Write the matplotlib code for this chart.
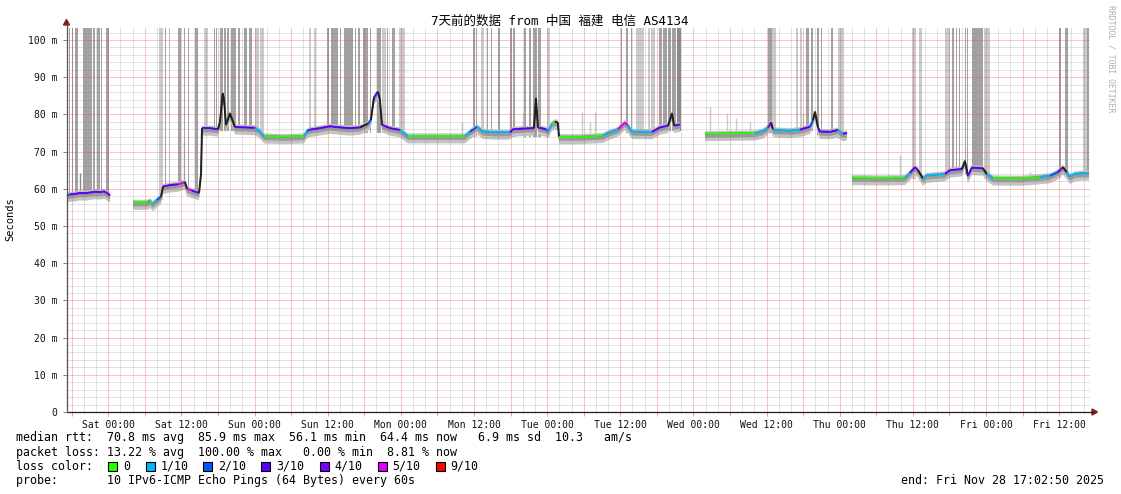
import numpy as np
import matplotlib
matplotlib.use('Agg')
import matplotlib.pyplot as plt
from matplotlib.collections import LineCollection
from matplotlib.patches import Polygon, Rectangle
from matplotlib.lines import Line2D

nan = np.nan
W, H = 1121, 494
MONO = ['DejaVu Sans Mono', 'Noto Sans CJK SC']
plt.rcParams['font.family'] = MONO

# ---------------- data ----------------
title = '7天前的数据 from 中国 福建 电信 AS4134'
# hours since start of window (Fri 17:02:50)
tick_hours = [6.953 + 12 * k for k in range(14)]
tick_labels = ['Sat 00:00', 'Sat 12:00', 'Sun 00:00', 'Sun 12:00', 'Mon 00:00', 'Mon 12:00',
               'Tue 00:00', 'Tue 12:00', 'Wed 00:00', 'Wed 12:00', 'Thu 00:00', 'Thu 12:00',
               'Fri 00:00', 'Fri 12:00']
ytick_vals = [0, 10, 20, 30, 40, 50, 60, 70, 80, 90, 100]
ytick_labels = ['0', '10 m', '20 m', '30 m', '40 m', '50 m', '60 m', '70 m', '80 m', '90 m', '100 m']

# median RTT (ms); loss index of the segment that starts at each point (7 = dark transition)
med_hours = [0.18, 0.67, 1.49, 2.31, 3.13, 3.95, 4.77, 5.59, 6.25, 6.74, 7.24, nan,
             11.01, 12.16, 13.47, 13.80, 14.29, 14.95, 15.61, 15.94, 17.09, 18.40, 19.54, 19.87,
             20.69, 21.84, 22.17, 22.33, 23.64, 24.95, 25.28, 25.73, 25.94, 26.27, 26.92, 27.74,
             29.38, 31.02, 31.84, 32.49, 35.94, 39.06, 39.55, 40.04, 41.68, 43.32, 44.96, 46.60,
             48.24, 49.55, 50.04, 50.53, 51.19, 51.52, 51.85, 53.16, 54.80, 55.46, 56.12, 61.37,
             65.47, 66.29, 67.44, 68.42, 70.39, 72.85, 73.34, 75.31, 76.79, 77.12, 77.45, 78.76,
             79.09, 79.74, 80.23, 80.72, 80.89, 84.33, 88.11, 88.93, 90.57, 91.72, 92.21, 92.87,
             96.15, 97.47, 98.79, 99.44, 99.77, 100.75, nan,
             104.85, 108.95, 113.05, 114.37, 115.19, 115.68, 116.01, 116.34, 118.80, 120.44,
             122.08, 122.57, 122.90, 123.39, 123.72, 125.36, 126.67, 127.49, 128.15, nan,
             128.97, 133.56, 137.66, 138.48, 139.30, 139.79, 140.61, 141.27, 144.22, 145.04,
             147.01, 147.50, 147.99, 148.64, 150.45, 151.10, 152.09, 156.52, 159.80, 161.44,
             162.75, 163.57, 164.23, 164.72, 165.54, 166.69, 167.84]
med_ms = [58.2, 58.5, 58.6, 58.9, 58.8, 59.0, 59.2, 59.1, 59.3, 58.9, 58.2, nan,
          56.4, 56.3, 56.4, 56.8, 56.0, 57.0, 57.9, 60.6, 61.0, 61.2, 61.8, 60.0,
          59.5, 58.9, 64.0, 76.3, 76.3, 76.0, 78.0, 85.7, 84.0, 77.2, 80.3, 76.6,
          76.5, 76.4, 75.5, 74.2, 74.0, 74.2, 75.5, 75.9, 76.3, 76.8, 76.5, 76.3,
          76.5, 77.5, 78.5, 84.5, 86.1, 84.0, 77.2, 76.3, 75.8, 75.0, 74.2, 74.2,
          74.2, 75.3, 76.7, 75.4, 75.2, 75.2, 76.0, 76.2, 76.3, 84.4, 76.5, 76.0,
          75.5, 77.5, 78.0, 77.8, 74.0, 74.0, 74.3, 75.0, 76.0, 77.8, 77.0, 75.4,
          75.3, 76.5, 77.0, 80.3, 77.0, 77.3, nan,
          74.8, 74.9, 75.0, 75.5, 76.5, 77.8, 76.0, 75.8, 75.6, 75.9,
          76.7, 78.5, 80.7, 76.5, 75.4, 75.3, 75.8, 74.8, 75.0, nan,
          63.0, 62.9, 63.0, 64.3, 65.8, 65.0, 62.8, 63.6, 64.0, 65.0,
          65.3, 67.5, 63.5, 65.7, 65.5, 64.0, 62.9, 62.8, 63.2, 63.5,
          64.5, 65.8, 64.5, 63.3, 64.0, 64.2, 64.2]
med_loss = [2, 3, 3, 3, 3, 3, 3, 4, 3, 3, 3, 0,
            0, 0, 1, 0, 1, 2, 7, 3, 3, 5, 7, 5,
            3, 7, 7, 3, 3, 7, 7, 7, 7, 7, 7, 3,
            3, 1, 1, 0, 0, 1, 2, 3, 3, 3, 3, 3,
            7, 2, 7, 3, 7, 7, 3, 3, 1, 1, 0, 0,
            1, 2, 1, 1, 1, 3, 3, 3, 7, 7, 3, 2,
            1, 0, 7, 7, 0, 0, 1, 1, 5, 5, 1, 1,
            3, 3, 7, 7, 3, 3, 0,
            0, 0, 1, 1, 4, 7, 1, 1, 1, 3,
            2, 7, 7, 3, 3, 3, 1, 3, 3, 0,
            0, 0, 1, 3, 3, 7, 1, 1, 3, 3,
            7, 7, 3, 3, 7, 1, 0, 0, 1, 2,
            3, 7, 1, 1, 1, 1, 1]

# smoke spread around the median (ms)
smoke_light = (-2.0, 0.7)
smoke_dark = (-1.1, 0.3)

# tall smoke bars (hours start/end, shade, base ms)
bar_start = [0.59, 1.00, 1.44, 1.71, 2.76, 4.50, 5.05, 5.76, 6.20, 6.63,
             15.23, 16.31, 16.96, 18.39, 19.33, 20.03, 21.13, 22.71, 24.25, 24.68,
             25.33, 25.99, 26.48, 27.14, 28.23, 29.17, 30.09, 30.98, 31.89, 39.84,
             40.75, 42.89, 43.45, 44.92, 45.63, 47.38, 47.92, 48.74, 49.94, 50.99,
             51.91, 52.68, 53.50, 54.70, 66.74, 67.28, 68.15, 69.14, 69.80, 70.89,
             72.91, 73.35, 75.16, 75.93, 76.64, 77.46, 78.93, 91.02, 91.94, 92.67,
             93.49, 95.50, 96.05, 97.26, 98.01, 98.79, 99.49, 100.21, 115.19, 115.90,
             119.74, 120.39, 121.38, 122.20, 123.28, 123.84, 125.48, 126.73, 138.77, 140.02,
             144.23, 145.33, 146.04, 146.53, 147.46, 147.84, 148.66, 149.53, 150.63, 162.93,
             163.92, 166.82, 167.58]
bar_end = [0.72, 1.17, 1.61, 1.94, 4.28, 4.73, 5.55, 5.92, 6.30, 7.02,
           15.93, 16.47, 17.13, 18.88, 19.49, 20.20, 21.72, 23.31, 24.51, 24.84,
           25.78, 26.27, 26.71, 27.91, 28.51, 29.71, 30.53, 31.63, 32.50, 40.21,
           41.03, 43.12, 44.64, 45.09, 47.05, 47.55, 48.20, 49.56, 50.11, 51.75,
           52.57, 52.85, 53.95, 55.69, 67.07, 67.45, 68.55, 69.25, 69.91, 71.17,
           73.19, 73.73, 75.54, 76.36, 77.30, 77.90, 79.48, 91.29, 92.27, 92.93,
           94.85, 95.83, 96.65, 97.85, 98.57, 99.23, 100.05, 100.87, 115.90, 116.45,
           120.11, 120.72, 121.92, 122.58, 123.56, 124.10, 125.81, 127.67, 139.48, 140.46,
           145.05, 145.71, 146.20, 146.70, 147.68, 148.00, 149.43, 150.52, 151.62, 163.21,
           164.46, 167.58, 167.81]
bar_shade = ['d', 'd', 'd', 'd', 'd', 'd', 'd', 'd', 'd', 'd',
             'l', 'd', 'l', 'd', 'd', 'd', 'd', 'l', 'd', 'd',
             'd', 'd', 'd', 'd', 'd', 'd', 'd', 'l', 'l', 'l',
             'l', 'd', 'd', 'd', 'd', 'd', 'd', 'd', 'd', 'd',
             'l', 'd', 'd', 'l', 'd', 'd', 'l', 'd', 'd', 'd',
             'd', 'd', 'd', 'd', 'd', 'd', 'l', 'd', 'd', 'd',
             'l', 'l', 'l', 'd', 'd', 'd', 'd', 'k', 'd', 'l',
             'l', 'l', 'd', 'd', 'd', 'd', 'd', 'l', 'l', 'l',
             'l', 'd', 'd', 'd', 'd', 'd', 'd', 'd', 'l', 'd',
             'd', 'l', 'd']
bar_base = [57.5, 57.5, 57.5, 57.5, 57.5, 57.5, 57.5, 57.5, 57.5, 57.5,
            57.0, 60.0, 60.0, 60.0, 60.0, 59.0, 58.0, 75.0, 75.0, 75.0,
            75.5, 75.5, 75.5, 75.5, 75.0, 75.0, 75.0, 75.0, 73.5, 74.5,
            74.5, 75.0, 75.0, 75.0, 75.0, 75.0, 75.0, 75.0, 75.0, 75.0,
            75.0, 75.0, 75.0, 74.0, 74.0, 74.0, 74.0, 74.0, 74.0, 74.0,
            74.0, 74.0, 74.0, 74.0, 74.0, 74.0, 74.0, 75.0, 75.0, 75.0,
            74.0, 74.0, 74.0, 75.5, 75.5, 75.5, 75.5, 75.5, 75.0, 75.0,
            74.5, 74.5, 75.0, 75.5, 74.5, 74.0, 74.5, 73.5, 62.5, 62.0,
            63.0, 63.5, 63.5, 63.5, 64.0, 62.5, 64.0, 64.0, 62.5, 63.0,
            63.5, 63.0, 63.0]

# shorter smoke spikes (hour, base, top, shade)
spike_hours = [2.31, 19.44, 65.0, 72.85, 75.0, 84.67, 85.98, 86.80, 105.69, 108.47, 109.95,
               112.25, 120.93, 136.85, 158.19]
spike_base = [58.0, 61.0, 74.0, 75.0, 75.5, 74.0, 74.0, 74.0, 74.5, 74.5, 74.5,
              74.5, 75.0, 62.5, 62.5]
spike_top = [64.2, 72.6, 78.0, 80.7, 80.4, 80.6, 78.0, 80.6, 82.0, 80.4, 79.0,
             78.0, 80.4, 69.0, 64.5]
spike_shade = ['k', 'd', 'l', 'd', 'l', 'l', 'l', 'l', 'l', 'l', 'l', 'l', 'l', 'l', 'l']

loss_colors = ['#26ff00', '#00b8ff', '#0059ff', '#5e00ff', '#7e00ff', '#dd00ff', '#ff0000', '#202020']
loss_labels = ['0', '1/10', '2/10', '3/10', '4/10', '5/10', '9/10']
legend_colors = ['#26ff00', '#00b8ff', '#0059ff', '#5e00ff', '#7e00ff', '#dd00ff', '#ff0000']

row_median = 'median rtt:  70.8 ms avg  85.9 ms max  56.1 ms min  64.4 ms now   6.9 ms sd  10.3   am/s'
row_loss = 'packet loss: 13.22 % avg  100.00 % max   0.00 % min  8.81 % now'
row_probe = 'probe:       10 IPv6-ICMP Echo Pings (64 Bytes) every 60s'
end_text = 'end: Fri Nov 28 17:02:50 2025'

# ---------------- layout ----------------
X0, X1, Y0, Y1 = 65.9, 1089.9, 412, 28
T_END = 168.0
Y_TOP = (412 - 28) / 3.72

def fx(x):
    return x / W

def fy(y):
    return 1 - y / H

fig = plt.figure(figsize=(W / 100, H / 100), dpi=100)
fig.patch.set_facecolor('white')
ax = fig.add_axes([fx(X0), fy(Y0), (X1 - X0) / W, (Y0 - Y1) / H])
ax.set_xlim(0, T_END)
ax.set_ylim(0, Y_TOP)
for s in ax.spines.values():
    s.set_visible(False)

shade_map = {'l': '#cbcbcb', 'd': '#a2a2a2', 'k': '#8a8a8a'}

# tall bars
bs = np.array(bar_start)
be = np.array(bar_end)
bb = np.array(bar_base)
ax.bar(bs, Y_TOP - bb, width=be - bs, bottom=bb, align='edge',
       color=[shade_map[c] for c in bar_shade], linewidth=0, zorder=1)
ax.vlines(spike_hours, spike_base, spike_top, colors=[shade_map[c] for c in spike_shade],
          linewidth=1.0, zorder=1.1)

mh = np.array(med_hours)
mv = np.array(med_ms)
ax.fill_between(mh, mv + smoke_light[0], mv + smoke_light[1], color='#c4c4c4', linewidth=0, zorder=2)
ax.fill_between(mh, mv + smoke_dark[0], mv + smoke_dark[1], color='#9a9a9a', linewidth=0, zorder=2.1)

# grid (drawn over the data like rrdtool); light lines approximate the 1px dotted pattern
grid_minor = (0.56, 0.56, 0.56, 0.26)
grid_major = (0.87, 0.31, 0.31, 0.32)
sat0 = tick_hours[0]
for h in np.arange(sat0 % 2, T_END, 2):
    is_major = abs(((h - sat0) / 6) - round((h - sat0) / 6)) < 1e-6
    ax.axvline(h, color=grid_major if is_major else grid_minor, linewidth=0.72, zorder=3)
for v in np.arange(2, Y_TOP, 2):
    is_major = int(round(v)) % 10 == 0
    ax.axhline(v, color=grid_major if is_major else grid_minor, linewidth=0.72, zorder=3)

# median line
ax.plot(mh, mv, color='#202020', linewidth=0.8, zorder=4, solid_capstyle='butt')
segs, cols = [], []
for i in range(len(mh) - 1):
    if np.isnan(mh[i]) or np.isnan(mh[i + 1]):
        continue
    segs.append([(mh[i], mv[i]), (mh[i + 1], mv[i + 1])])
    cols.append(loss_colors[med_loss[i]])
ax.add_collection(LineCollection(segs, colors=cols, linewidths=1.4, zorder=5, capstyle='butt'))

# ticks
major_t = np.arange(sat0 % 6, T_END, 6)
ax.set_xticks(major_t)
lab = []
for t in major_t:
    k = [j for j, th in enumerate(tick_hours) if abs(th - t) < 1e-6]
    lab.append(tick_labels[k[0]] if k else '')
ax.set_xticklabels(lab, fontsize=7, color='#111111')
ax.tick_params(axis='x', length=3, width=0.7, color=(0.87, 0.31, 0.31, 0.6), pad=3, direction='out')
ax.set_yticks(ytick_vals)
ax.set_yticklabels(ytick_labels, fontsize=7, color='#111111')
ax.tick_params(axis='y', length=2, width=0.7, color='#777777', pad=4, direction='out')

# axes lines and arrows
axis_col = (0.12, 0.12, 0.12)
fig.add_artist(Line2D([fx(66.5), fx(1093)], [fy(412), fy(412)], color=axis_col, linewidth=0.9))
fig.add_artist(Line2D([fx(66.5), fx(66.5)], [fy(412), fy(24)], color='#555555', linewidth=0.9))
arrow_col = (0.5, 0.12, 0.12)
fig.add_artist(Polygon([(fx(63.5), fy(25)), (fx(69.5), fy(25)), (fx(66.5), fy(19.5))],
                       closed=True, color=arrow_col, transform=fig.transFigure))
fig.add_artist(Polygon([(fx(1092), fy(409)), (fx(1092), fy(415)), (fx(1097.5), fy(412))],
                       closed=True, color=arrow_col, transform=fig.transFigure))

# texts
fig.text(fx(560), fy(21), title, ha='center', va='center', fontsize=9, family=MONO)
fig.text(fx(10), fy(219), 'Seconds', rotation=90, ha='center', va='center', fontsize=7.5)
fig.text(fx(1111), fy(59), 'RRDTOOL / TOBI OETIKER', rotation=270, ha='center', va='center',
         fontsize=5.9, color='#b0b0b0')

FS = 8.4
fig.text(fx(16), fy(437.5), row_median, ha='left', va='center', fontsize=FS)
fig.text(fx(16), fy(452), row_loss, ha='left', va='center', fontsize=FS)
fig.text(fx(16), fy(466), 'loss color:', ha='left', va='center', fontsize=FS)
fig.text(fx(16), fy(480.5), row_probe, ha='left', va='center', fontsize=FS)
fig.text(fx(1104), fy(480.5), end_text, ha='right', va='center', fontsize=FS)

sq_x = [108, 146, 203, 261, 320, 378, 436]
lab_x = [123, 161, 218, 276, 334, 392, 450]
for c, lb, sx, lx in zip(legend_colors, loss_labels, sq_x, lab_x):
    fig.add_artist(Rectangle((fx(sx), fy(470.5)), 9 / W, 9 / H, facecolor=c, edgecolor='black',
                             linewidth=0.8, transform=fig.transFigure))
    fig.text(fx(lx), fy(466), lb, ha='left', va='center', fontsize=FS)

fig.savefig('out.png', dpi=100, facecolor='white')
